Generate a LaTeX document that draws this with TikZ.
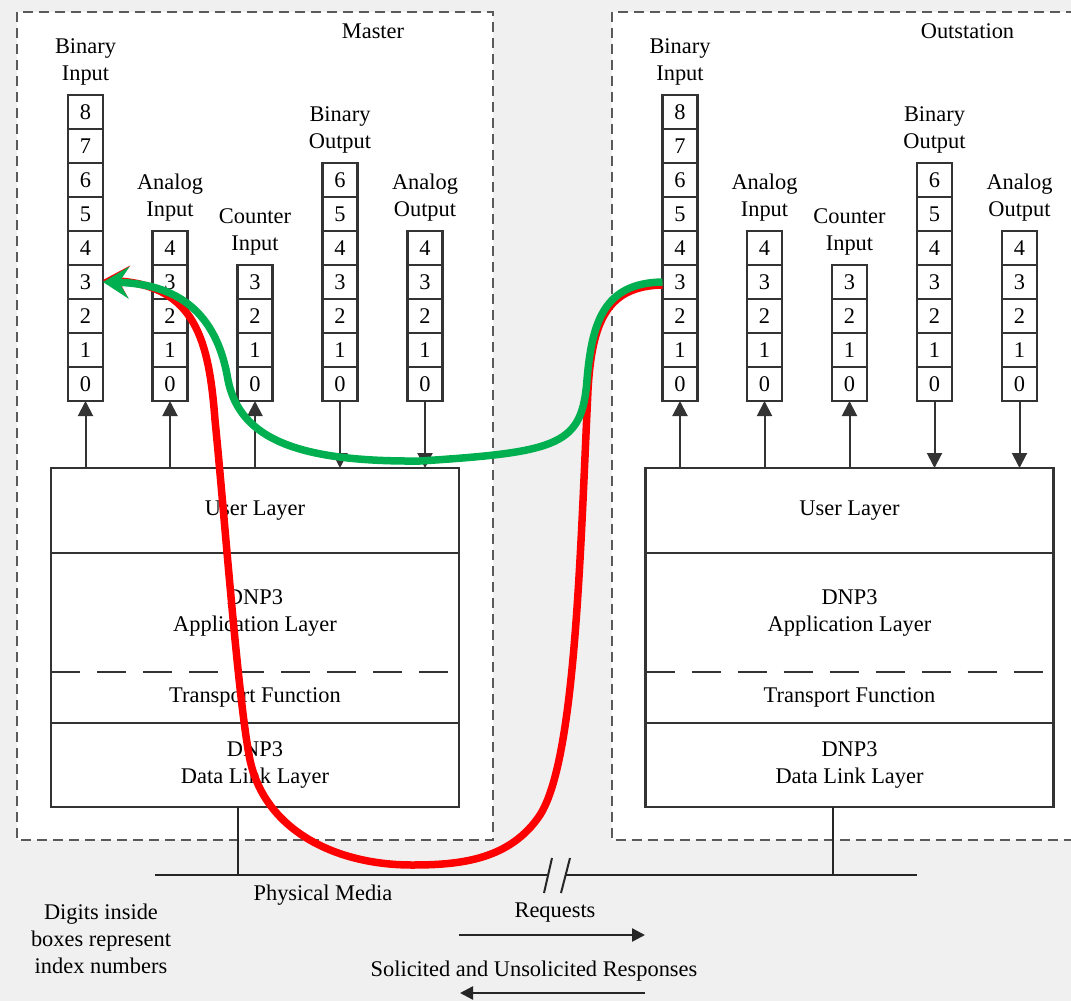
\documentclass[tikz,border=0pt]{standalone}
\usepackage{fontspec}
\setmainfont{Liberation Serif}
\usetikzlibrary{arrows.meta, positioning}
\definecolor{bggray}{HTML}{F0F0F0}
\definecolor{lineGray}{HTML}{333333}
\definecolor{frameGray}{HTML}{5A5A5A}
\definecolor{respRed}{HTML}{FF0000}
\definecolor{pollGreen}{HTML}{00B050}

\begin{document}
\begin{tikzpicture}[x=1pt, y=-1pt,
    font=\fontsize{22.4}{27}\selectfont,
    station/.style={draw=frameGray, line width=2pt, dash pattern=on 10pt off 6pt, fill=white},
    cell/.style={draw=lineGray, line width=2.2pt, minimum width=35pt, minimum height=34pt,
                 inner sep=0pt, outer sep=0pt},
    lbl/.style={align=center, inner sep=0pt},
    layer/.style={minimum width=408pt, align=center, inner sep=0pt, outer sep=0pt},
    layerbox/.style={draw=lineGray, line width=2.2pt},
    toIn/.style={draw=lineGray, line width=2pt, -{Triangle[length=15pt,width=15pt]}},
    toOut/.style={draw=lineGray, line width=2pt, {Triangle[length=15pt,width=15pt]}-},
    medium/.style={draw=black!85, line width=2pt},
    msg/.style={draw=black!85, line width=2.4pt, -{Triangle[length=13pt,width=13pt]}},
    flow/.style={line width=7.5pt, -{Stealth[length=26pt,width=32pt,inset=10pt]}},
    node distance=0pt
  ]
  \useasboundingbox (0,0) rectangle (1071,1001);
  \fill[bggray] (0,0) rectangle (1071,1001);

  \coordinate (pm-w) at (155,875);
  \coordinate (pm-e) at (917,875);
  \coordinate (brk-w) at (548,875);
  \coordinate (brk-e) at (565,875);

  \foreach \pre/\dx/\ttl in {m/0/Master, o/594.5/Outstation}{
    \begin{scope}[xshift=\dx pt]
      \draw[station] (17,12) rectangle (493,840);
      \node (\pre-title) at (373,31) {\ttl};

      \node[layer, layerbox, minimum height=85pt] (\pre-user) at (255,510.5) {User Layer};
      \node[layer, minimum height=119pt, below=of \pre-user] (\pre-app) {DNP3\\Application Layer};
      \node[layer, minimum height=51pt, below=of \pre-app] (\pre-trans) {Transport Function};
      \node[layer, layerbox, minimum height=84pt, below=of \pre-trans] (\pre-link) {DNP3\\Data Link Layer};
      \draw[layerbox] (\pre-app.north west) rectangle (\pre-trans.south east);
      \draw[lineGray, line width=2.2pt, dash pattern=on 29pt off 17pt]
        (\pre-app.south west) -- (\pre-app.south east);

      \foreach \col/\cx/\ntop/\lbl/\dir in {bi/85.5/8/{Binary\\Input}/toIn,
          ai/170/4/{Analog\\Input}/toIn, ci/255/3/{Counter\\Input}/toIn,
          bo/340/6/{Binary\\Output}/toOut, ao/425/4/{Analog\\Output}/toOut}{
        \node[cell] (\pre-\col-0) at (\cx,384) {0};
        \foreach \k [remember=\k as \prev (initially 0)] in {1,...,\ntop}
          \node[cell, above=of \pre-\col-\prev] (\pre-\col-\k) {\k};
        \node[lbl, above=10pt of \pre-\col-\ntop] (\pre-\col-lbl) {\lbl};
        \draw[\dir] (\pre-user.north -| \pre-\col-0.south) -- (\pre-\col-0.south);
      }

      % tap to the physical media
      \coordinate (\pre-tap) at ([xshift=-17pt]\pre-link.south);
      \draw[medium] (\pre-tap) -- (\pre-tap |- pm-w);
    \end{scope}
  }

  % physical media with break
  \draw[medium] (pm-w) -- (brk-w) (brk-e) -- (pm-e);
  \draw[medium] ([shift={(-4,18)}]brk-w) -- ([shift={(4,-17)}]brk-w);
  \draw[medium] ([shift={(-4,18)}]brk-e) -- ([shift={(5,-17)}]brk-e);

  \node (pm-lbl) at (323,895) {Physical Media};
  \node[align=center] (note) at (101,939) {Digits inside\\boxes represent\\index numbers};

  \node (req-lbl) at (555,913) {Requests};
  \coordinate (req-w) at (459,935);
  \coordinate (req-e) at (645,935);
  \draw[msg] (req-w) -- (req-e);

  \node (resp-lbl) at (534,971) {Solicited and Unsolicited Responses};
  \coordinate (resp-e) at (645,993);
  \coordinate (resp-w) at (460,993);
  \draw[msg] (resp-e) -- (resp-w);

  % data paths
  \draw[flow, respRed] ([yshift=-3pt]o-bi-3.west) .. controls (608,286) and (592,320) .. (588,390)
    .. controls (580,560) and (575,760) .. (540,815)
    .. controls (510,860) and (460,865) .. (412,865)
    .. controls (335,865) and (265,830) .. (250,760)
    .. controls (238,700) and (225,520) .. (215,420)
    .. controls (209,340) and (195,286) .. ([yshift=2pt]m-bi-3.east);
  \draw[flow, pollGreen] (o-bi-3.west) .. controls (605,283) and (592,320) .. (587,380)
    .. controls (582,445) and (560,452) .. (420,461)
    .. controls (300,462) and (240,440) .. (228,380)
    .. controls (218,320) and (185,284) .. (m-bi-3.east);
\end{tikzpicture}
\end{document}
